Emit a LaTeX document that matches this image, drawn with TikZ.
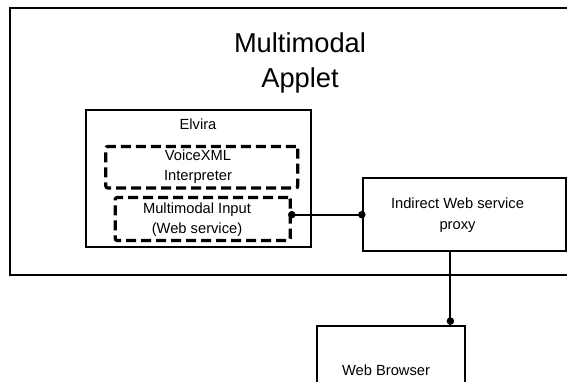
\documentclass[tikz,border=0pt]{standalone}
\usepackage{fontspec}
\setmainfont{Liberation Sans}
\usetikzlibrary{positioning}

\tikzset{
  box/.style = {draw, line width=1.9pt, inner sep=0pt},
  dashbox/.style = {draw, line width=3.2pt, dash pattern=on 10pt off 5pt,
                    rounded corners=2pt, inner sep=0pt},
  txt/.style = {font=\fontsize{14.7}{20.5}\selectfont, align=center, inner sep=0pt},
  link/.style = {line width=1.9pt},
  dot/.style = {circle, fill, inner sep=0pt, minimum size=7.5pt}
}

\begin{document}
\begin{tikzpicture}[x=1pt, y=-1pt]
\useasboundingbox (0,0) rectangle (567,382);
\clip (0,0) rectangle (567,382);

% applet frame
\node[box, minimum width=570pt, minimum height=267pt] (applet) at (295,141.5) {};
\node[align=center, inner sep=0pt, font=\fontsize{27.3}{35}\selectfont] (title) at (300,63) {Multimodal\\Applet};

% elvira
\node[box, minimum width=225pt, minimum height=137pt] (elvira) at (198.4,178.5) {};
\node[txt] (elvlbl) at (198,124) {Elvira};
\node[dashbox, minimum width=192pt, minimum height=41.5pt] (vxml) at (201.8,167.2) {};
\node[txt] (vxmllbl) at (198,166.5) {VoiceXML\\Interpreter};
\node[dashbox, minimum width=175pt, minimum height=43pt] (mi) at (202.7,219) {};
\node[txt] (milbl) at (197,219.5) {Multimodal Input\\(Web service)};

% proxy + browser
\node[box, minimum width=203.3pt, minimum height=73.4pt] (proxy) at (464.4,214.7) {};
\node[txt] (proxylbl) at (457.5,215) {Indirect Web service\\proxy};
\node[box, minimum width=147.7pt, minimum height=74pt] (browser) at (390.9,363) {};
\node[txt] (browserlbl) at (386,370.7) {Web Browser};

% links
\coordinate (miend) at (mi.east |- proxy.west);
\draw[link] (miend) -- (proxy.west);
\node[dot] (d1) at (miend) {};
\node[dot] (d2) at (proxy.west) {};
\coordinate (ptap) at ([xshift=-14pt]proxy.south);
\coordinate (btap) at (ptap |- browser.north);
\draw[link] (ptap) -- (btap);
\node[dot] (d3) at ([yshift=4pt]btap) {};
\end{tikzpicture}
\end{document}
